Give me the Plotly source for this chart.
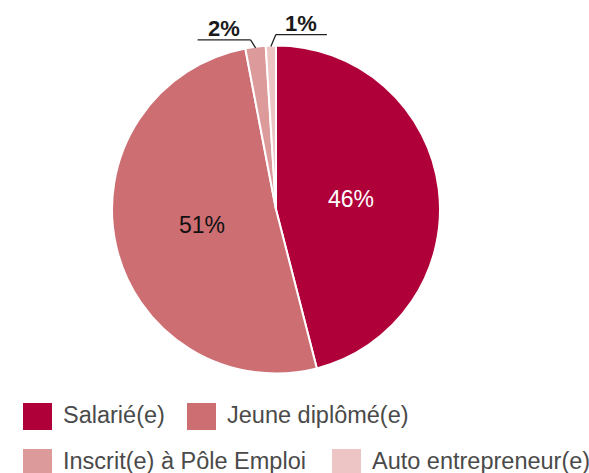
import math
import plotly.graph_objects as go

# ---- data ----
categories = ["Salarié(e)", "Jeune diplômé(e)", "Inscrit(e) à Pôle Emploi", "Auto entrepreneur(e)"]
values = [46, 51, 2, 1]
labels_text = ["46%", "51%", "2%", "1%"]
colors = ["#B0003A", "#CD6E73", "#DD9A9B", "#EEC5C5"]
inside_font_colors = ["#FFFFFF", "#111111", "#111111", "#111111"]

W, H = 589, 473
CX, CY, R = 276, 209.5, 164
FONT = "Liberation Sans, Arial, sans-serif"


def px(x):
    return x / W


def py(y):
    return 1 - y / H


fig = go.Figure()

fig.add_trace(go.Pie(
    labels=categories,
    values=values,
    textinfo="none",
    marker=dict(colors=colors, line=dict(color="white", width=2)),
    sort=False,
    direction="clockwise",
    rotation=0,
    showlegend=False,
    hoverinfo="label+percent",
    domain=dict(x=[px(CX - R), px(CX + R)], y=[py(CY + R), py(CY - R)]),
))

shapes = []
annotations = []

total = sum(values)
cum = 0
small_cfg = {
    2: dict(dx=-5, dy=-8, line_len=-53),
    3: dict(dx=5, dy=-12, line_len=51),
}
for i, v in enumerate(values):
    mid = (cum + v / 2) / total
    cum += v
    ang = 2 * math.pi * mid
    if i not in small_cfg:
        # inside label at ~0.46 R along the slice bisector
        rr = 0.46 * R
        annotations.append(dict(
            x=px(CX + rr * math.sin(ang)), y=py(CY - rr * math.cos(ang) - 1),
            xref="paper", yref="paper", text=labels_text[i], showarrow=False,
            xanchor="center", yanchor="middle",
            font=dict(family=FONT, size=23, color=inside_font_colors[i]),
        ))
        continue
    cfg = small_cfg[i]
    x0 = CX + (R - 1) * math.sin(ang)
    y0 = CY - (R - 1) * math.cos(ang)
    x1, y1 = x0 + cfg["dx"], y0 + cfg["dy"]
    x2 = x1 + cfg["line_len"]
    shapes.append(dict(type="line", xref="paper", yref="paper",
                       x0=px(x0), y0=py(y0), x1=px(x1), y1=py(y1),
                       line=dict(color="#222222", width=1.3)))
    shapes.append(dict(type="line", xref="paper", yref="paper",
                       x0=px(x1), y0=py(y1), x1=px(x2), y1=py(y1),
                       line=dict(color="#222222", width=1.3)))
    annotations.append(dict(
        x=px((x1 + x2) / 2), y=py(y1 + 3), xref="paper", yref="paper",
        text="<b>" + labels_text[i] + "</b>", showarrow=False,
        xanchor="center", yanchor="bottom",
        font=dict(family=FONT, size=22, color="#1a1a1a"),
    ))

# custom legend (large swatches)
legend_items = [
    (0, 23, 403),
    (1, 187, 403),
    (2, 23, 449),
    (3, 332, 449),
]
SW, SH = 29, 27
for idx, lx, ly in legend_items:
    shapes.append(dict(type="rect", xref="paper", yref="paper",
                       x0=px(lx), x1=px(lx + SW), y0=py(ly + SH), y1=py(ly),
                       fillcolor=colors[idx], line=dict(width=0)))
    annotations.append(dict(
        x=px(lx + SW + 9), y=py(ly + SH / 2 - 2), xref="paper", yref="paper",
        text=categories[idx], showarrow=False, xanchor="left", yanchor="middle",
        font=dict(family=FONT, size=23.5, color="#4a4a4a"),
    ))

fig.update_layout(
    width=W, height=H,
    margin=dict(l=0, r=0, t=0, b=0),
    paper_bgcolor="white",
    plot_bgcolor="white",
    shapes=shapes,
    annotations=annotations,
    showlegend=False,
)

fig.write_html("out.html")
